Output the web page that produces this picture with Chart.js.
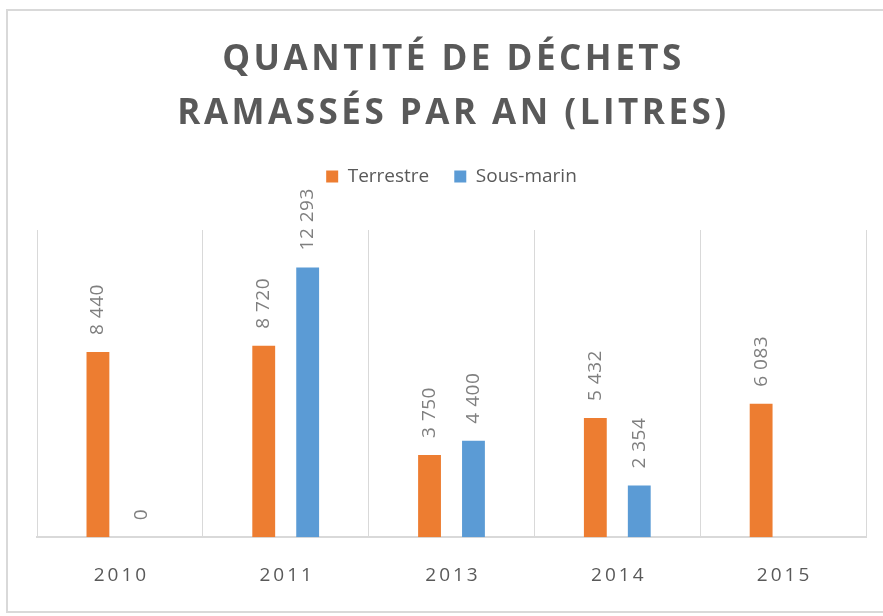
<!DOCTYPE html>
<html>
<head>
<meta charset="utf-8">
<script src="https://cdn.jsdelivr.net/npm/chart.js@4/dist/chart.umd.min.js"></script>
<style>
  html, body { margin: 0; padding: 0; background: #ffffff; }
  #wrap { position: relative; width: 883px; height: 616px; overflow: hidden; }
  #frame { position: absolute; left: 6px; top: 9px; width: 900px; height: 604px; border: 2px solid #d9d9d9; box-sizing: border-box; }
  #box { position: absolute; left: 0; top: 0; width: 883px; height: 616px; }
</style>
</head>
<body>
<div id="wrap">
  <div id="frame"></div>
  <div id="box"><canvas id="c"></canvas></div>
</div>
<script>
const categories = ['2010', '2011', '2013', '2014', '2015'];
const terrestre = [8440, 8720, 3750, 5432, 6083];
const sousMarin = [0, 12293, 4400, 2354, null];
const seriesNames = ['Terrestre', 'Sous-marin'];
const titleLines = ['QUANTITÉ DE DÉCHETS', 'RAMASSÉS PAR AN (LITRES)'];
const yMin = 0;
const yMax = 14000;

function fmt(v) {
  return String(v).replace(/\B(?=(\d{3})+(?!\d))/g, ' ');
}

const spacingPlugin = {
  id: 'spacing',
  beforeDraw(chart) {
    const ctx = chart.ctx;
    const t = chart.titleBlock;
    if (t && !t._wrapped) {
      const orig = t.draw.bind(t);
      t.draw = function () { ctx.save(); ctx.letterSpacing = '3.5px'; ctx.translate(2, 0); orig(); ctx.restore(); };
      t._wrapped = true;
    }
    const x = chart.scales.x;
    if (x && !x._wrapped) {
      const origL = x.drawLabels.bind(x);
      x.drawLabels = function (a) { ctx.save(); ctx.letterSpacing = '3px'; ctx.translate(1.5, 0); origL(a); ctx.restore(); };
      x._wrapped = true;
    }
  }
};

const labelPlugin = {
  id: 'barLabels',
  afterDatasetsDraw(chart) {
    const ctx = chart.ctx;
    chart.data.datasets.forEach((ds, i) => {
      const meta = chart.getDatasetMeta(i);
      meta.data.forEach((bar, j) => {
        const v = ds.data[j];
        if (v === null || v === undefined) return;
        ctx.save();
        ctx.translate(bar.x, bar.y - 17);
        ctx.rotate(-Math.PI / 2);
        ctx.font = '19px "Open Sans"';
        ctx.letterSpacing = '0.5px';
        ctx.fillStyle = '#7f7f7f';
        ctx.textAlign = 'left';
        ctx.textBaseline = 'middle';
        ctx.fillText(fmt(v), 0, 0);
        ctx.restore();
      });
    });
  }
};

new Chart(document.getElementById('c'), {
  type: 'bar',
  data: {
    labels: categories,
    datasets: [
      { label: seriesNames[0], data: terrestre, backgroundColor: '#ED7D31', borderWidth: 0 },
      { label: seriesNames[1], data: sousMarin, backgroundColor: '#5B9BD5', borderWidth: 0 }
    ]
  },
  options: {
    responsive: true,
    maintainAspectRatio: false,
    animation: false,
    categoryPercentage: 0.53,
    barPercentage: 0.52,
    layout: { padding: { left: 37, right: 17, top: 0, bottom: 2 } },
    plugins: {
      title: {
        display: true,
        text: titleLines,
        color: '#595959',
        font: { family: '"Open Sans"', size: 35, weight: 'bold', lineHeight: 54 / 35 },
        padding: { top: 33, bottom: 1 }
      },
      subtitle: {
        display: true,
        text: '',
        position: 'top',
        weight: 500,
        font: { size: 1, lineHeight: 1 },
        padding: { top: 0, bottom: 33 }
      },
      legend: {
        display: true,
        position: 'top',
        labels: {
          boxWidth: 12,
          boxHeight: 12,
          padding: 25,
          color: '#595959',
          font: { family: '"Open Sans"', size: 19 }
        }
      },
      tooltip: { enabled: false }
    },
    scales: {
      x: {
        grid: { display: true, color: '#d9d9d9', lineWidth: 1, drawTicks: false, offset: true },
        border: { display: true, color: '#d9d9d9', width: 2 },
        ticks: { color: '#595959', padding: 27, font: { family: '"Open Sans"', size: 19 } }
      },
      y: {
        display: false,
        min: yMin,
        max: yMax
      }
    }
  },
  plugins: [spacingPlugin, labelPlugin]
});
</script>
</body>
</html>
